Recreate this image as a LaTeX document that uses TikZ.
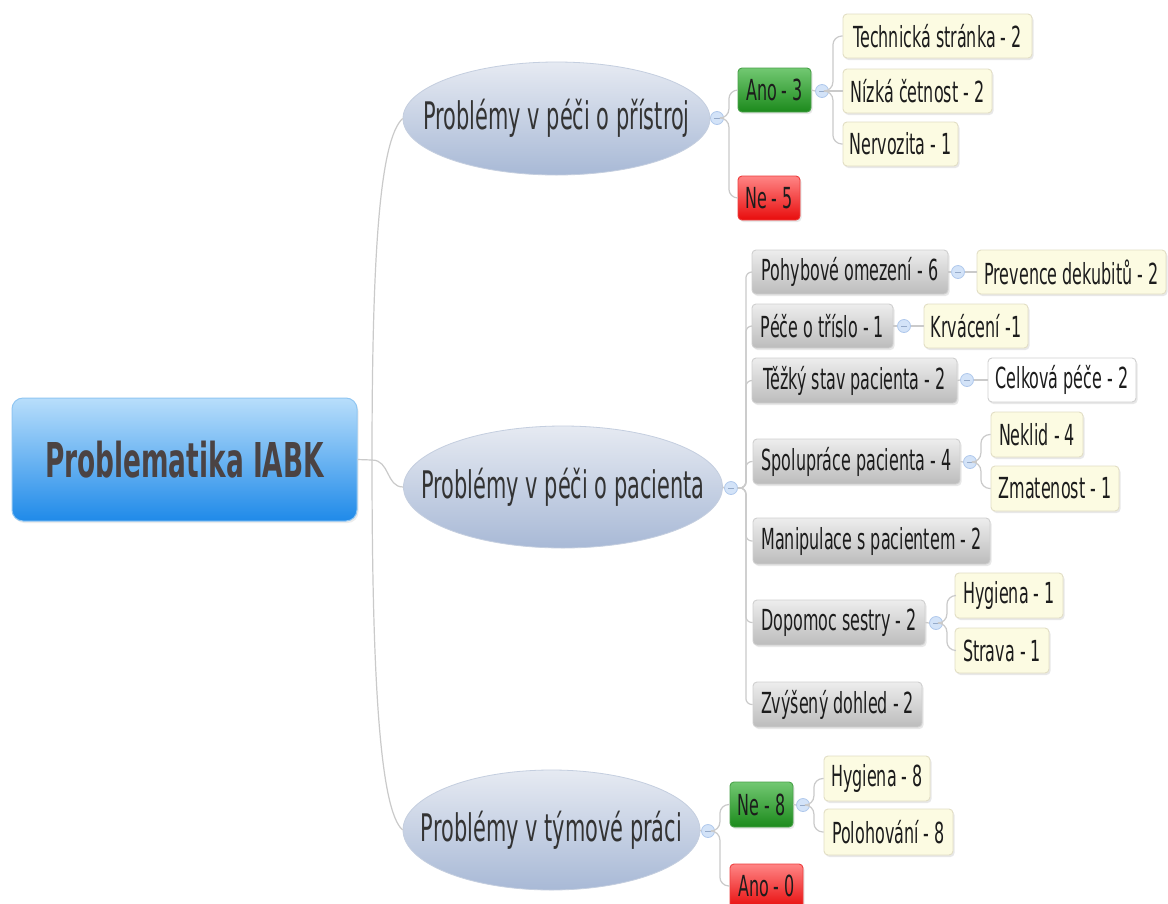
\documentclass[tikz,border=0pt]{standalone}
\usepackage{fontspec}
\setmainfont{DejaVu Sans}[FakeStretch=0.55]
\usetikzlibrary{shapes.geometric,shadows}

\definecolor{linkC}{HTML}{CACACA}
\definecolor{txtC}{HTML}{1C1C1C}
\definecolor{rootT}{HTML}{B8DEFB}
\definecolor{rootB}{HTML}{1F8AE9}
\definecolor{rootD}{HTML}{90C6F2}
\definecolor{rootTxt}{HTML}{4B4343}
\definecolor{ellT}{HTML}{E6EAF2}
\definecolor{ellB}{HTML}{A8B9D6}
\definecolor{ellD}{HTML}{C4CEDF}
\definecolor{ellTxt}{HTML}{333333}
\definecolor{grayT}{HTML}{EDEDED}
\definecolor{grayB}{HTML}{BCBCBC}
\definecolor{grayD}{HTML}{CFCFCF}
\definecolor{yelF}{HTML}{FCFBE2}
\definecolor{yelD}{HTML}{E2DEC4}
\definecolor{greenT}{HTML}{72C872}
\definecolor{greenB}{HTML}{1C8A1C}
\definecolor{redT}{HTML}{FF8585}
\definecolor{redB}{HTML}{E80C0C}
\definecolor{knobF}{HTML}{D3E3F8}
\definecolor{knobD}{HTML}{AFC8EC}

% place a node by its left, top, right and bottom edges
\newcommand\mmnode[7]{%
  \node[#1, minimum width={(#5)-(#3)}, minimum height={(#6)-(#4)}]
    (#2) at ({((#3)+(#5))/2},{((#4)+(#6))/2}) {#7};}
% collapse marker
\newcommand\mmknob[3]{\node[knob] (#1) at (#2,#3) {};}
% topic ellipse whose size does not depend on its text
\newcommand\mmtopic[6]{%
  \node[topic, minimum width=#4pt, minimum height=#5pt] (#1) at (#2,#3)
    {\makebox[0pt]{#6}};}

\begin{document}
\begin{tikzpicture}[x=1pt,y=-1pt,
  link/.style={draw=linkC, line width=1.2pt, rounded corners=9pt},
  box/.style={rectangle, rounded corners=4pt, inner sep=0pt, line width=0.9pt,
    text=txtC, font=\fontsize{29}{30}\selectfont},
  soft/.style={drop shadow={opacity=0.18, shadow xshift=1.5pt, shadow yshift=-2pt}},
  graybox/.style={box, soft, top color=grayT, bottom color=grayB, draw=grayD},
  yelbox/.style={box, soft, fill=yelF, draw=yelD},
  whitebox/.style={box, soft, fill=white, draw=grayD},
  greenbox/.style={box, soft, top color=greenT, bottom color=greenB, draw=greenB!80!white},
  redbox/.style={box, soft, top color=redT, bottom color=redB, draw=redB!80!white},
  rootbox/.style={rectangle, rounded corners=11pt, inner sep=0pt, line width=1pt,
    top color=rootT, bottom color=rootB, draw=rootD, text=rootTxt,
    font=\fontsize{48}{50}\selectfont\bfseries,
    drop shadow={opacity=0.15, shadow xshift=1.5pt, shadow yshift=-2pt}},
  topic/.style={ellipse, inner sep=0pt, line width=0.8pt, top color=ellT,
    bottom color=ellB, draw=ellD, text=ellTxt, font=\fontsize{38}{40}\selectfont},
  knob/.style={circle, minimum size=13pt, inner sep=0pt, fill=knobF, draw=knobD,
    line width=0.8pt, path picture={\draw[knobD!85!black, line width=1pt]
      ([xshift=-2.8pt]path picture bounding box.center) --
      ([xshift=2.8pt]path picture bounding box.center);}}
]
\useasboundingbox (0,0) rectangle (1168,903);
\fill[white] (0,0) rectangle (1168,903);

% ---------- nodes ----------
\mmnode{rootbox}{root}{12}{398}{357}{521}{Problematika IABK}

\mmtopic{tA}{556.5}{118.5}{307}{113}{Problémy v péči o přístroj}
\mmtopic{tB}{563}{487}{319}{122}{Problémy v péči o pacienta}
\mmtopic{tC}{551.5}{830}{297}{120}{Problémy v týmové práci}

% first topic
\mmnode{greenbox}{anoA}{738}{68}{811}{112}{Ano - 3}
\mmnode{redbox}{neA}{738}{176}{800}{220}{Ne - 5}
\mmnode{yelbox}{tech}{843}{14}{1032}{58}{Technická stránka - 2}
\mmnode{yelbox}{nizka}{843}{69}{992}{113}{Nízká četnost - 2}
\mmnode{yelbox}{nerv}{843}{122}{958}{166}{Nervozita - 1}

% second topic
\mmnode{graybox}{pohyb}{752}{250}{948}{294}{Pohybové omezení - 6}
\mmnode{graybox}{trislo}{752}{304}{893}{348}{Péče o tříslo - 1}
\mmnode{graybox}{stav}{752}{358}{957}{403}{Těžký stav pacienta - 2}
\mmnode{graybox}{spolu}{753}{439}{960}{484}{Spolupráce pacienta - 4}
\mmnode{graybox}{manip}{753}{518}{990}{564}{Manipulace s pacientem - 2}
\mmnode{graybox}{dopo}{753}{600}{925}{645}{Dopomoc sestry - 2}
\mmnode{graybox}{dohled}{753}{682}{922}{727}{Zvýšený dohled - 2}

\mmnode{yelbox}{dekub}{977}{250}{1166}{294}{Prevence dekubitů - 2}
\mmnode{yelbox}{krv}{924}{304}{1028}{348}{Krvácení -1}
\mmnode{whitebox}{celk}{988}{358}{1136}{402}{Celková péče - 2}
\mmnode{yelbox}{neklid}{991}{412}{1083}{457}{Neklid - 4}
\mmnode{yelbox}{zmat}{991}{466}{1119}{511}{Zmatenost - 1}
\mmnode{yelbox}{hygB}{955}{573}{1063}{618}{Hygiena - 1}
\mmnode{yelbox}{strava}{955}{628}{1049}{673}{Strava - 1}

% third topic
\mmnode{greenbox}{neC}{730}{782}{793}{827}{Ne - 8}
\mmnode{redbox}{anoC}{730}{864}{803}{908}{Ano - 0}
\mmnode{yelbox}{hygC}{824}{756}{930}{801}{Hygiena - 8}
\mmnode{yelbox}{poloh}{824}{809}{953}{855}{Polohování - 8}

% ---------- collapse markers ----------
\mmknob{kA}{717}{118}
\mmknob{kB}{731}{488}
\mmknob{kC}{708}{831}
\mmknob{kAno}{822}{91}
\mmknob{kPoh}{958}{272}
\mmknob{kTri}{904}{326}
\mmknob{kStav}{967}{380}
\mmknob{kSpo}{970}{462}
\mmknob{kDop}{936}{623}
\mmknob{kNe}{803}{805}

% ---------- connectors ----------
\coordinate (rj) at (372,460);
\draw[link] (root.east) -- (rj);
\draw[link, rounded corners=0pt] (rj) .. controls (372,250) and (380,140) .. (tA.west);
\draw[link, rounded corners=0pt] (rj) .. controls (390,460) and (386,487) .. (tB.west);
\draw[link, rounded corners=0pt] (rj) .. controls (372,680) and (380,810) .. (tC.west);

\draw[link] (tA.east) -- (kA.west);
\draw[link] (tB.east) -- (kB.west);
\draw[link] (tC.east) -- (kC.west);

% first topic branches
\draw[link] (kA.east) -- ++(5,0) |- (anoA.west);
\draw[link] (kA.east) -- ++(5,0) |- (neA.west);
\draw[link] (anoA.east) -- (kAno.west);
\draw[link] (kAno.east) -- ++(4,0) |- (tech.west);
\draw[link] (kAno.east) -- (nizka.west);
\draw[link] (kAno.east) -- ++(4,0) |- (nerv.west);

% second topic branches
\begin{scope}[link/.append style={rounded corners=6pt}]
\draw[link] (kB.east) -- ++(8,0) |- (pohyb.west);
\draw[link] (kB.east) -- ++(8,0) |- (trislo.west);
\draw[link] (kB.east) -- ++(8,0) |- (stav.west);
\draw[link] (kB.east) -- ++(8,0) |- (spolu.west);
\draw[link] (kB.east) -- ++(8,0) |- (manip.west);
\draw[link] (kB.east) -- ++(8,0) |- (dopo.west);
\draw[link] (kB.east) -- ++(8,0) |- (dohled.west);
\end{scope}
\draw[link] (pohyb.east) -- (kPoh.west);
\draw[link] (trislo.east) -- (kTri.west);
\draw[link] (stav.east) -- (kStav.west);
\draw[link] (spolu.east) -- (kSpo.west);
\draw[link] (dopo.east) -- (kDop.west);
\draw[link] (kPoh.east) -- (dekub.west);
\draw[link] (kTri.east) -- (krv.west);
\draw[link] (kStav.east) -- (celk.west);
\draw[link] (kSpo.east) -- ++(4,0) |- (neklid.west);
\draw[link] (kSpo.east) -- ++(4,0) |- (zmat.west);
\draw[link] (kDop.east) -- ++(4,0) |- (hygB.west);
\draw[link] (kDop.east) -- ++(4,0) |- (strava.west);

% third topic branches
\draw[link] (kC.east) -- ++(5,0) |- (neC.west);
\draw[link] (kC.east) -- ++(5,0) |- (anoC.west);
\draw[link] (neC.east) -- (kNe.west);
\draw[link] (kNe.east) -- ++(4,0) |- (hygC.west);
\draw[link] (kNe.east) -- ++(4,0) |- (poloh.west);
\end{tikzpicture}
\end{document}
